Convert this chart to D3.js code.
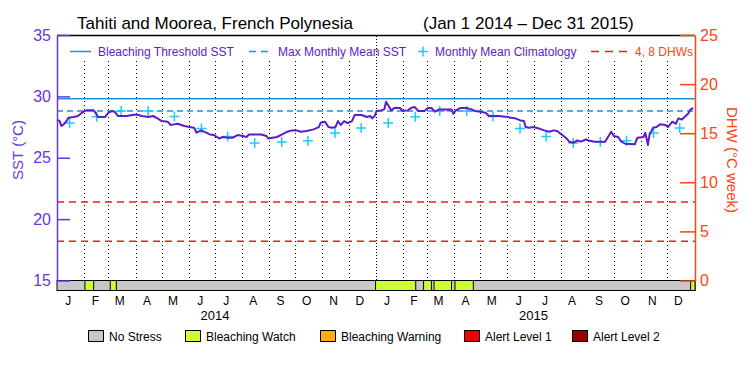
<!DOCTYPE html>
<html>
<head>
<meta charset="utf-8">
<script src="https://cdn.jsdelivr.net/npm/d3@7"></script>
<style>
  body { margin: 0; background: #fff; }
  svg text { font-family: "Liberation Sans", Arial, sans-serif; }
</style>
</head>
<body>
<svg width="750" height="375"></svg>
<script>
// ---- data ----
var startDate = "2014-01-01";
// [days since Jan 1 2014, SST degC]
var sstSeries = [
  [0,28.12],[1,28.07],[3,27.99],[5,27.59],[7,27.67],[11,28.00],[13,28.26],[19,28.32],[24,28.40],[30,28.75],
  [34,28.86],[42,28.86],[44,28.67],[47,28.32],[55,28.32],[59,28.67],[63,28.81],[66,28.75],[70,28.40],[80,28.40],
  [86,28.48],[91,28.53],[97,28.40],[105,28.32],[110,28.40],[114,28.26],[120,27.99],[127,27.93],[130,27.67],[134,27.72],
  [138,27.77],[146,27.59],[152,27.50],[157,27.45],[160,27.04],[165,27.23],[171,27.04],[175,26.90],[180,26.85],[186,26.57],
  [190,26.69],[196,26.63],[201,26.63],[207,26.85],[213,26.77],[217,26.69],[220,26.90],[234,26.90],[240,26.77],[242,26.57],
  [252,26.69],[258,26.90],[264,27.12],[269,27.23],[275,27.23],[279,27.12],[286,27.18],[294,27.31],[300,27.50],[302,27.85],
  [307,27.94],[311,27.50],[315,27.45],[319,27.50],[322,27.99],[325,27.67],[329,27.99],[333,27.83],[338,27.99],[341,28.48],
  [349,28.48],[355,28.32],[359,28.40],[361,28.21],[364,28.40],[366,28.81],[371,28.86],[375,28.94],[377,29.57],[380,29.22],
  [383,28.86],[387,29.08],[393,29.05],[396,28.81],[402,28.86],[406,29.08],[410,29.13],[414,28.81],[421,28.81],[425,29.05],
  [429,29.05],[433,28.75],[438,28.94],[452,28.94],[454,28.59],[457,28.86],[462,29.05],[469,29.05],[475,28.94],[479,28.81],
  [485,28.75],[491,28.67],[495,28.40],[506,28.40],[514,28.35],[520,28.26],[525,28.21],[531,28.04],[535,27.99],[537,27.50],
  [541,27.45],[546,27.50],[552,27.39],[558,27.23],[564,27.12],[569,27.23],[573,27.18],[577,26.96],[583,26.63],[587,26.31],
  [592,26.22],[596,26.41],[600,26.31],[606,26.49],[609,26.41],[616,26.31],[628,26.31],[632,26.77],[635,27.12],[638,26.77],
  [643,26.69],[646,26.36],[651,26.14],[662,26.09],[665,26.63],[672,26.69],[674,27.04],[676,26.41],[677,26.04],[679,26.90],
  [683,27.45],[687,27.50],[691,27.72],[697,27.67],[700,27.50],[705,27.94],[709,27.77],[712,28.21],[716,28.12],[719,28.32],
  [723,28.59],[726,28.94],[729,29.05]
];
var climatology = [27.83, 28.35, 28.8, 28.8, 28.37, 27.39, 26.74, 26.2, 26.28, 26.39, 27.01, 27.42];
var years = [2014, 2015];
var monthLetters = ["J","F","M","A","M","J","J","A","S","O","N","D"];
var mmm = 28.8;
var bleachThreshold = 29.8;
var dhwLevels = [4, 8];

var stressStart = ["2014-02-02","2014-03-03","2015-01-01","2015-02-25","2015-03-09","2015-04-02","2015-12-28"];
var stressEnd   = ["2014-02-12","2014-03-10","2015-02-16","2015-03-06","2015-03-29","2015-04-23","2016-01-02"];
var stressLevel = [1,1,1,1,1,1,1];

var stressNames  = ["No Stress","Bleaching Watch","Bleaching Warning","Alert Level 1","Alert Level 2"];
var stressColors = ["#c8c8c8","#ccff33","#ffaa11","#ee0000","#990000"];

// ---- setup ----
var svg = d3.select("svg");
var parse = d3.timeParse("%Y-%m-%d");
var t0 = parse(startDate);

var purple = "#5c1cc8",
    axisPurple = "#6a35dc",
    red = "#ff4411",
    blue = "#1f8fe0",
    cyan = "#1ccaff";

var x = d3.scaleTime()
    .domain([t0, parse("2016-01-02")])
    .range([57, 695]);
var ySST = d3.scaleLinear().domain([15, 35]).range([280.5, 35]);
var yDHW = d3.scaleLinear().domain([0, 25]).range([280.5, 35]);

// title
svg.append("text").attr("x", 77).attr("y", 29).attr("font-size", 17)
  .text("Tahiti and Moorea, French Polynesia");
svg.append("text").attr("x", 423).attr("y", 29).attr("font-size", 17)
  .text("(Jan 1 2014 \u2013 Dec 31 2015)");

// month dotted lines
var monthStarts = d3.timeMonth.range(d3.timeMonth.offset(t0, 1), parse("2016-01-01"));
svg.append("g").selectAll("line")
  .data(monthStarts).enter().append("line")
  .attr("x1", d => Math.round(x(d)) + 0.5).attr("x2", d => Math.round(x(d)) + 0.5)
  .attr("y1", d => d.getMonth() === 0 ? 36 : 61).attr("y2", 280)
  .attr("stroke", "#000").attr("stroke-width", 1)
  .attr("stroke-dasharray", d => d.getMonth() === 0 ? "1,2" : "1,3");

// reference lines
svg.append("line").attr("x1", 57).attr("x2", 695)
  .attr("y1", ySST(bleachThreshold)).attr("y2", ySST(bleachThreshold))
  .attr("stroke", blue).attr("stroke-width", 1.5);
svg.append("line").attr("x1", 57).attr("x2", 695)
  .attr("y1", ySST(mmm)).attr("y2", ySST(mmm))
  .attr("stroke", blue).attr("stroke-width", 1.5).attr("stroke-dasharray", "6,4");
svg.append("g").selectAll("line")
  .data(dhwLevels).enter().append("line")
  .attr("x1", 57).attr("x2", 695)
  .attr("y1", d => yDHW(d)).attr("y2", d => yDHW(d))
  .attr("stroke", "#ee1c1c").attr("stroke-width", 1.5).attr("stroke-dasharray", "7,5");

// climatology crosses (mid month)
var climPts = [];
years.forEach(function(yr) {
  climatology.forEach(function(v, m) {
    climPts.push({ date: new Date(yr, m, 15, 12), v: v });
  });
});
var cross = svg.append("g").selectAll("path")
  .data(climPts).enter().append("path")
  .attr("d", d => {
    var cx = x(d.date), cy = ySST(d.v);
    return "M" + (cx - 5) + "," + cy + "H" + (cx + 5) + "M" + cx + "," + (cy - 5) + "V" + (cy + 5);
  })
  .attr("stroke", cyan).attr("stroke-width", 1.5).attr("fill", "none");

// SST line
var line = d3.line()
  .x(d => x(d3.timeDay.offset(t0, d[0])))
  .y(d => ySST(d[1]));
svg.append("path").datum(sstSeries)
  .attr("d", line).attr("fill", "none")
  .attr("stroke", purple).attr("stroke-width", 2).attr("stroke-linejoin", "round");

// stress strip
svg.append("rect").attr("x", 57).attr("y", 280.5).attr("width", 638).attr("height", 10)
  .attr("fill", stressColors[0]).attr("stroke", "#000");
svg.append("g").selectAll("rect")
  .data(stressStart).enter().append("rect")
  .attr("x", d => x(parse(d)))
  .attr("width", (d, i) => Math.min(x(parse(stressEnd[i])), 695) - x(parse(d)))
  .attr("y", 280.5).attr("height", 10)
  .attr("fill", (d, i) => stressColors[stressLevel[i]]).attr("stroke", "#000");

// top border
svg.append("line").attr("x1", 57).attr("x2", 695).attr("y1", 35.5).attr("y2", 35.5)
  .attr("stroke", "#000").attr("stroke-width", 1.5);

// left axis
var gL = svg.append("g").attr("transform", "translate(57,0)");
gL.call(d3.axisLeft(ySST).tickValues(d3.range(15, 36)).tickFormat("").tickSize(-7).tickSizeOuter(0));
gL.call(d3.axisLeft(ySST).tickValues(d3.range(15, 36, 5)).tickSize(-13).tickSizeOuter(0).tickPadding(6));
gL.selectAll("path, line").attr("stroke", axisPurple).attr("stroke-width", 1.5);
gL.selectAll("text").attr("fill", axisPurple).attr("font-size", 16).attr("font-family", null);

svg.append("text")
  .attr("transform", "translate(23,150) rotate(-90)")
  .attr("text-anchor", "middle").attr("font-size", 15).attr("fill", axisPurple)
  .text("SST (\u00b0C)");

// right axis
var gR = svg.append("g").attr("transform", "translate(695,0)");
gR.call(d3.axisRight(yDHW).tickValues(d3.range(0, 26)).tickFormat("").tickSize(-7).tickSizeOuter(0));
gR.call(d3.axisRight(yDHW).tickValues(d3.range(0, 26, 5)).tickSize(-15).tickSizeOuter(0).tickPadding(5));
gR.selectAll("path, line").attr("stroke", red).attr("stroke-width", 1.5);
gR.selectAll("text").attr("fill", red).attr("font-size", 16).attr("font-family", null);

svg.append("text")
  .attr("transform", "translate(727,160) rotate(90)")
  .attr("text-anchor", "middle").attr("font-size", 15).attr("fill", red)
  .text("DHW (\u00b0C week)");

// month and year labels
var monthMids = [];
years.forEach(function(yr) {
  monthLetters.forEach(function(l, m) { monthMids.push({ date: new Date(yr, m, 14), l: l }); });
});
svg.append("g").selectAll("text")
  .data(monthMids).enter().append("text")
  .attr("x", d => x(d.date)).attr("y", 305)
  .attr("text-anchor", "middle").attr("font-size", 12)
  .text(d => d.l);
svg.append("g").selectAll("text")
  .data(years).enter().append("text")
  .attr("x", d => x(new Date(d, 6, 1))).attr("y", 320)
  .attr("text-anchor", "middle").attr("font-size", 13)
  .text(d => d);

// top legend
var ly = 51.5;
svg.append("line").attr("x1", 70).attr("x2", 91).attr("y1", ly).attr("y2", ly)
  .attr("stroke", blue).attr("stroke-width", 1.5);
svg.append("line").attr("x1", 249).attr("x2", 272).attr("y1", ly).attr("y2", ly)
  .attr("stroke", blue).attr("stroke-width", 1.5).attr("stroke-dasharray", "7,5");
svg.append("path").attr("d", "M418," + ly + "H428M423," + (ly - 5) + "V" + (ly + 5))
  .attr("stroke", cyan).attr("stroke-width", 1.5);
svg.append("line").attr("x1", 591).attr("x2", 630).attr("y1", ly).attr("y2", ly)
  .attr("stroke", "#ee1c1c").attr("stroke-width", 1.5).attr("stroke-dasharray", "8,6");
var legTexts = [
  { x: 98, t: "Bleaching Threshold SST", c: purple },
  { x: 278, t: "Max Monthly Mean SST", c: purple },
  { x: 435, t: "Monthly Mean Climatology", c: purple },
  { x: 635, t: "4, 8 DHWs", c: red }
];
svg.append("g").selectAll("text")
  .data(legTexts).enter().append("text")
  .attr("x", d => d.x).attr("y", ly + 4.5).attr("font-size", 12)
  .attr("fill", d => d.c).text(d => d.t);

// bottom legend
var boxX = [88, 185, 320, 464, 572];
var gB = svg.append("g").selectAll("g")
  .data(stressNames).enter().append("g")
  .attr("transform", (d, i) => "translate(" + boxX[i] + ",330)");
gB.append("rect").attr("x", 0.5).attr("y", 0.5).attr("width", 15).attr("height", 11)
  .attr("fill", (d, i) => stressColors[i]).attr("stroke", "#000");
gB.append("text").attr("x", 21).attr("y", 10.5).attr("font-size", 12).text(d => d);
</script>
</body>
</html>
